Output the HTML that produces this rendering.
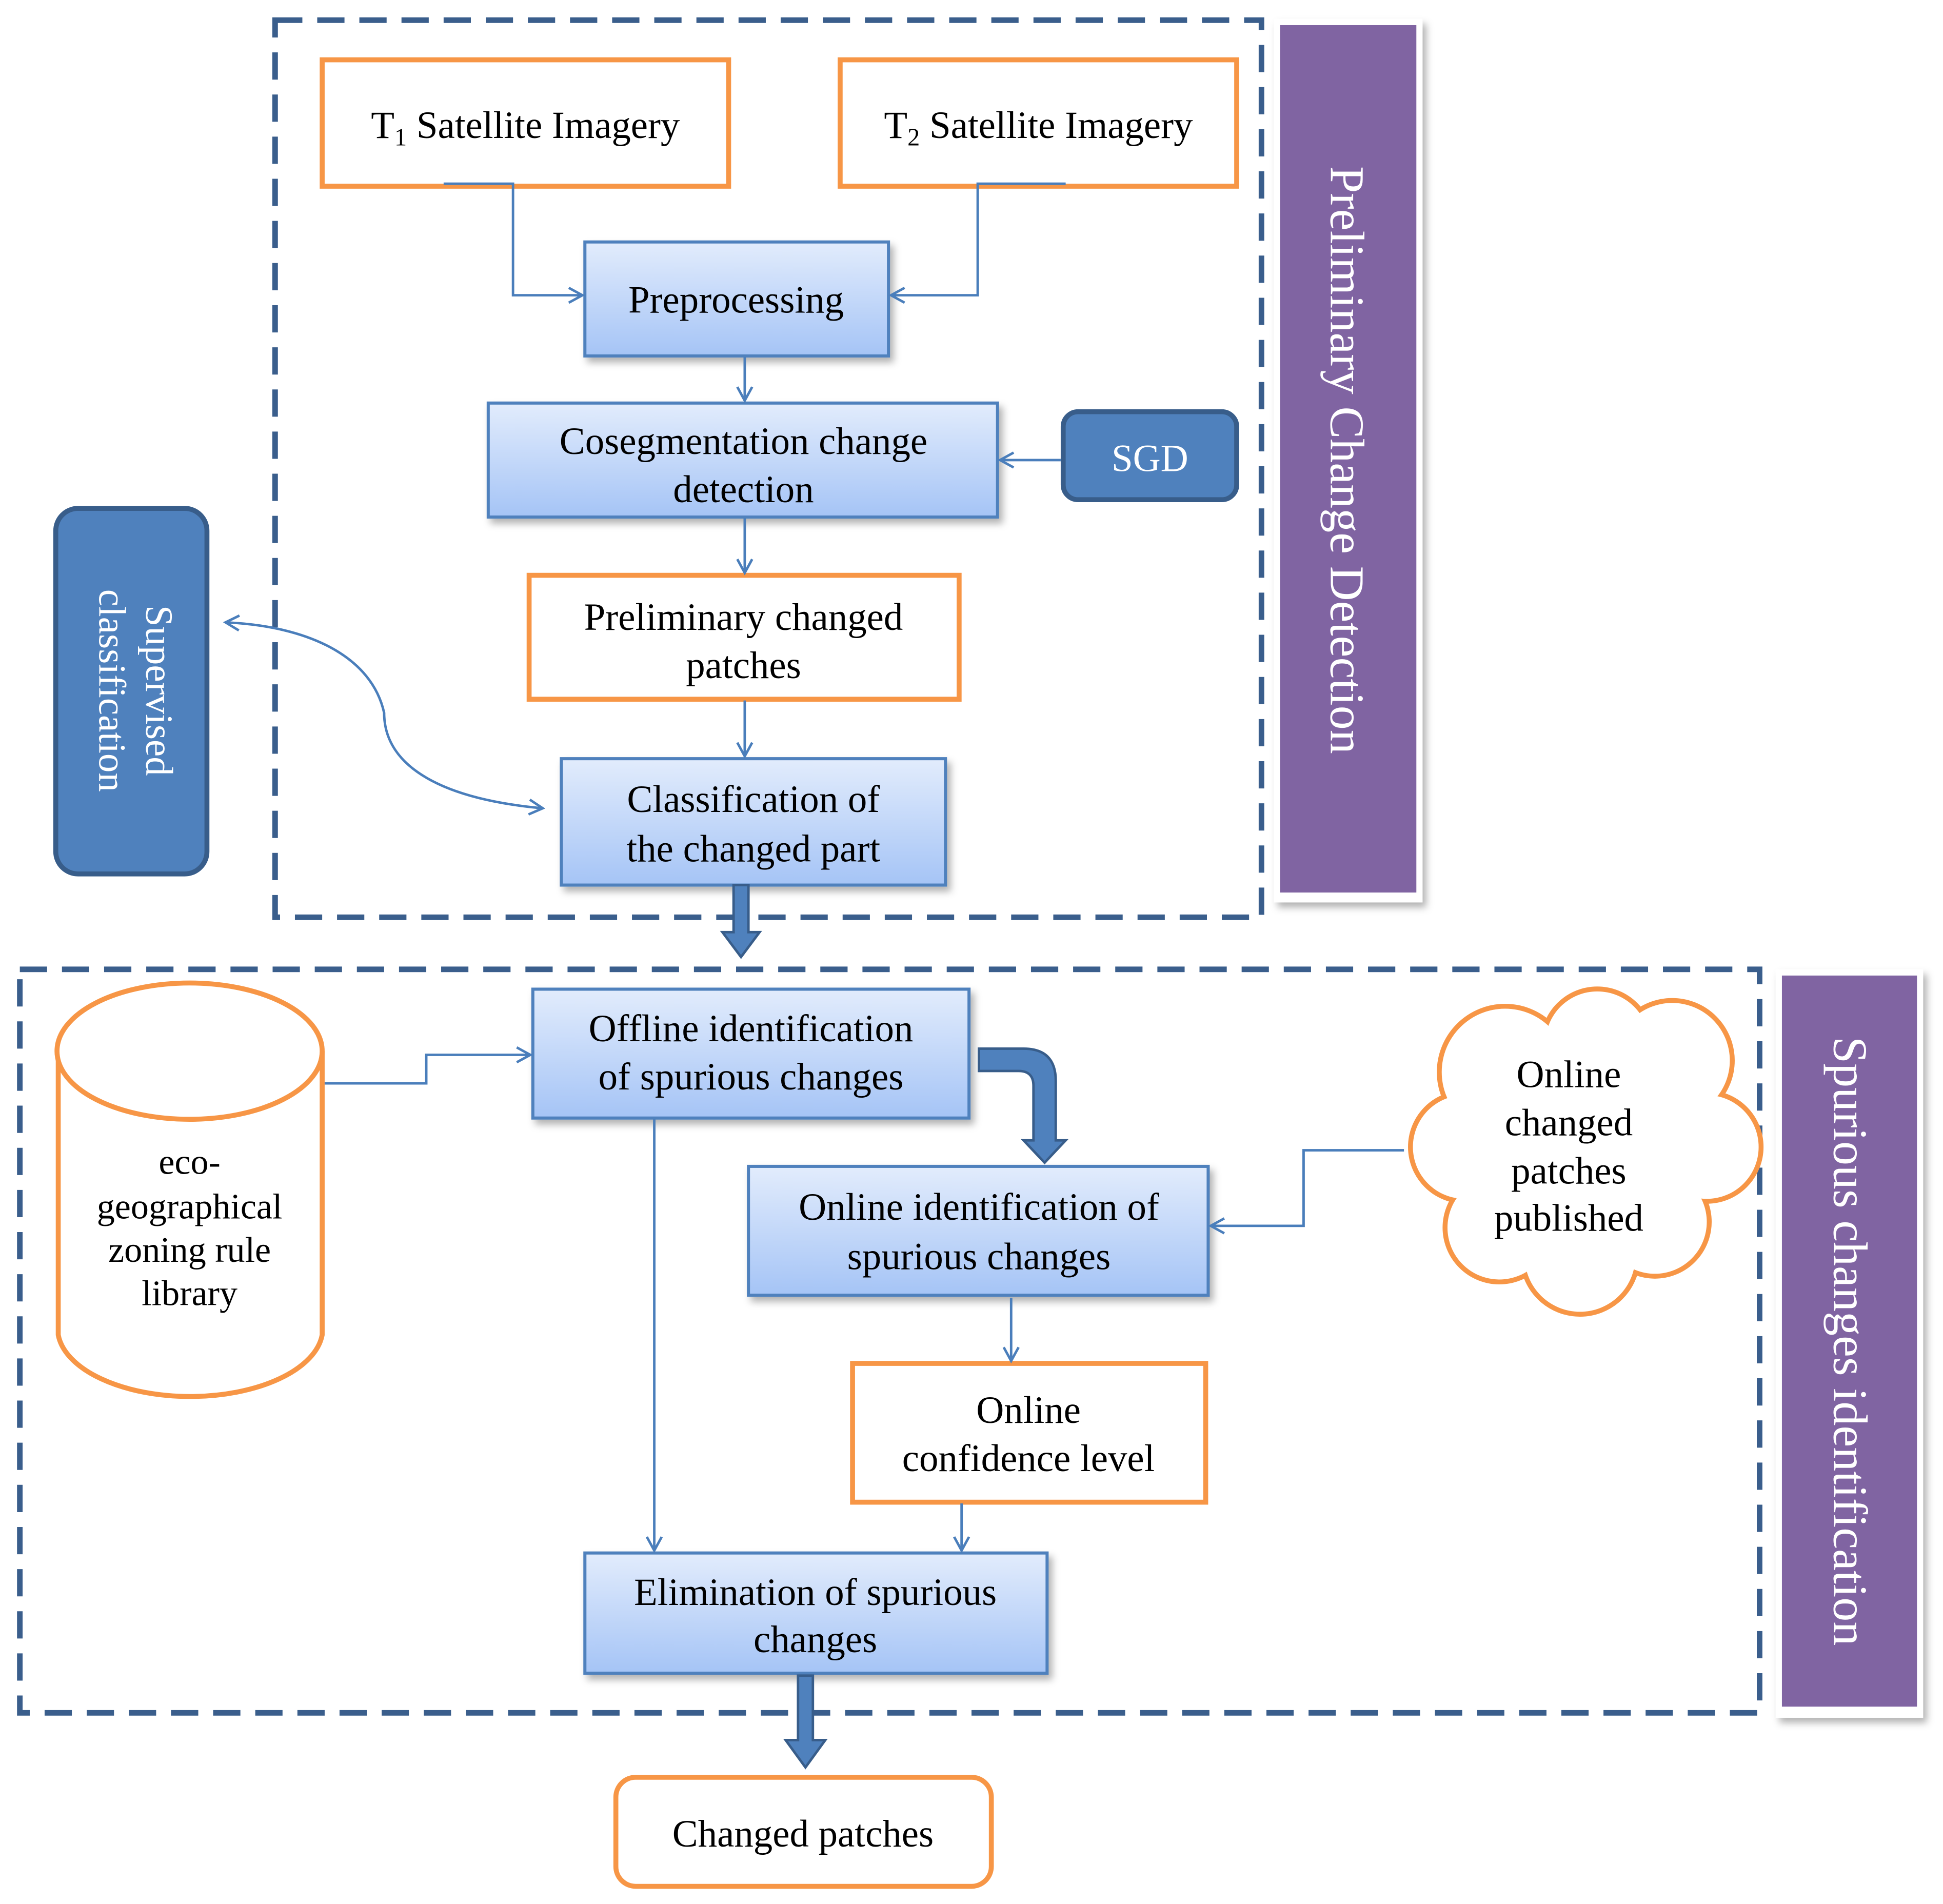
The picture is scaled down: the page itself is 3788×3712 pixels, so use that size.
<!DOCTYPE html>
<html><head><meta charset="utf-8"><style>html,body{margin:0;padding:0;background:#fff}svg{display:block}</style></head>
<body>
<svg width="3788" height="3712" viewBox="0 0 1568 1536" xmlns="http://www.w3.org/2000/svg" font-family="Liberation Serif, serif">
<defs>
<linearGradient id="g" x1="0" y1="0" x2="0" y2="1"><stop offset="0" stop-color="#e2ecfc"/><stop offset="1" stop-color="#a5c4f6"/></linearGradient>
<marker id="a" markerWidth="14" markerHeight="14" refX="12" refY="7" orient="auto-start-reverse" markerUnits="userSpaceOnUse"><path d="M1,1 L12,7 L1,13" fill="none" stroke="#4a7ebb" stroke-width="2"/></marker>
<filter id="s" x="-10%" y="-10%" width="130%" height="130%"><feDropShadow dx="3" dy="4" stdDeviation="3" flood-color="#000" flood-opacity="0.3"/></filter>
</defs>
<g fill="none" stroke="#3a5e8c" stroke-width="4.5" stroke-dasharray="22,12">
<rect x="222" y="16" width="796" height="724"/>
<rect x="16" y="782" width="1404" height="600"/>
</g>
<rect x="1028" y="15" width="120" height="713" fill="#fff" filter="url(#s)"/>
<rect x="1033" y="20" width="110" height="700" fill="#8064a2"/>
<text transform="translate(1074,371) rotate(90)" text-anchor="middle" font-size="39" fill="#fff">Preliminary Change Detection</text>
<rect x="1433" y="782" width="119" height="604" fill="#fff" filter="url(#s)"/>
<rect x="1438" y="787" width="109" height="590" fill="#8064a2"/>
<text transform="translate(1480,1082) rotate(90)" text-anchor="middle" font-size="39" fill="#fff">Spurious changes identification</text>

<g fill="#fff" stroke="#f79646" stroke-width="4">
<rect x="260" y="48" width="328" height="102"/>
<rect x="678" y="48" width="320" height="102"/>
<rect x="427" y="464" width="347" height="100"/>
<rect x="688" y="1100" width="285" height="112"/>
<rect x="497" y="1434" width="303" height="88" rx="16"/>
</g>
<g font-size="31" text-anchor="middle" fill="#000">
<text x="424" y="111">T<tspan font-size="20" dy="6">1</tspan><tspan dy="-6"> Satellite Imagery</tspan></text>
<text x="838" y="111">T<tspan font-size="20" dy="6">2</tspan><tspan dy="-6"> Satellite Imagery</tspan></text>
<text x="600" y="508">Preliminary changed</text><text x="600" y="547">patches</text>
<text x="830" y="1148">Online</text><text x="830" y="1187">confidence level</text>
<text x="648" y="1490">Changed patches</text>
</g>

<g fill="url(#g)" stroke="#4f81bd" stroke-width="2.5" filter="url(#s)">
<rect x="472" y="195" width="245" height="92"/>
<rect x="394" y="325" width="411" height="92"/>
<rect x="453" y="612" width="310" height="102"/>
<rect x="430" y="798" width="352" height="104"/>
<rect x="604" y="941" width="371" height="104"/>
<rect x="472" y="1253" width="373" height="97"/>
</g>
<g font-size="31" text-anchor="middle" fill="#000">
<text x="594" y="252">Preprocessing</text>
<text x="600" y="366">Cosegmentation change</text><text x="600" y="405">detection</text>
<text x="608" y="655">Classification of</text><text x="608" y="695">the changed part</text>
<text x="606" y="840">Offline identification</text><text x="606" y="879">of spurious changes</text>
<text x="790" y="984">Online identification of</text><text x="790" y="1024">spurious changes</text>
<text x="658" y="1295">Elimination of spurious</text><text x="658" y="1333">changes</text>
</g>

<rect x="858" y="332" width="140" height="71" rx="12" fill="#4f81bd" stroke="#385d8a" stroke-width="4"/>
<text x="928" y="380" font-size="31" text-anchor="middle" fill="#fff">SGD</text>
<rect x="45" y="410" width="122" height="295" rx="18" fill="#4f81bd" stroke="#385d8a" stroke-width="4"/>
<text transform="translate(106,557) rotate(90)" text-anchor="middle" font-size="31" fill="#fff"><tspan x="0" y="-12">Supervised</tspan><tspan x="0" y="26">classification</tspan></text>

<!-- cylinder -->
<path d="M47,848 L47,1077 A107,55 0 0 0 260,1077 L260,848" fill="#fff" stroke="#f79646" stroke-width="4"/>
<ellipse cx="153" cy="848" rx="107" ry="55" fill="#fff" stroke="#f79646" stroke-width="4"/>
<g font-size="29" text-anchor="middle"><text x="153" y="947">eco-</text><text x="153" y="983">geographical</text><text x="153" y="1018">zoning rule</text><text x="153" y="1053">library</text></g>

<!-- cloud -->
<g transform="translate(1276,930) scale(0.93) translate(-1276,-930)">
<g stroke="#f79646" stroke-width="8.5" fill="#fff">
<circle cx="1210" cy="860" r="55"/><circle cx="1290" cy="835" r="45"/><circle cx="1355" cy="850" r="50"/>
<circle cx="1385" cy="925" r="45"/><circle cx="1340" cy="990" r="45"/><circle cx="1275" cy="1020" r="48"/>
<circle cx="1205" cy="995" r="45"/><circle cx="1175" cy="925" r="45"/>
</g>
<g fill="#fff">
<circle cx="1210" cy="860" r="55"/><circle cx="1290" cy="835" r="45"/><circle cx="1355" cy="850" r="50"/>
<circle cx="1385" cy="925" r="45"/><circle cx="1340" cy="990" r="45"/><circle cx="1275" cy="1020" r="48"/>
<circle cx="1205" cy="995" r="45"/><circle cx="1175" cy="925" r="45"/>
<ellipse cx="1275" cy="930" rx="100" ry="95"/>
</g>
</g>
<g font-size="31" text-anchor="middle"><text x="1266" y="877">Online</text><text x="1266" y="916">changed</text><text x="1266" y="955">patches</text><text x="1266" y="993">published</text></g>

<!-- connectors -->
<g fill="none" stroke="#4a7ebb" stroke-width="2" marker-end="url(#a)">
<path d="M358,148 L414,148 L414,238 L470,238"/>
<path d="M860,148 L789,148 L789,238 L719,238"/>
<path d="M601,288 L601,323"/>
<path d="M856,371 L807,371"/>
<path d="M601,418 L601,462"/>
<path d="M601,565 L601,610"/>
<path d="M438,652 C360,645 310,620 310,575 C300,530 250,505 182,502" marker-start="url(#a)"/>
<path d="M262,874 L344,874 L344,851 L428,851"/>
<path d="M528,903 L528,1251"/>
<path d="M1133,928 L1052,928 L1052,989 L977,989"/>
<path d="M816,1047 L816,1098"/>
<path d="M776,1213 L776,1251"/>
</g>

<!-- thick arrows -->
<g fill="#4f81bd" stroke="#385d8a" stroke-width="2">
<path d="M592,714 L604,714 L604,752 L613,752 L598,772 L583,752 L592,752 Z"/>
<path d="M644,1352 L656,1352 L656,1404 L666,1404 L650,1426 L634,1404 L644,1404 Z"/>
<path d="M790,846 L826,846 Q852,846 852,872 L852,920 L860,920 L843,938 L826,920 L834,920 L834,876 Q834,864 822,864 L790,864 Z"/>
</g>
</svg>
</body></html>
